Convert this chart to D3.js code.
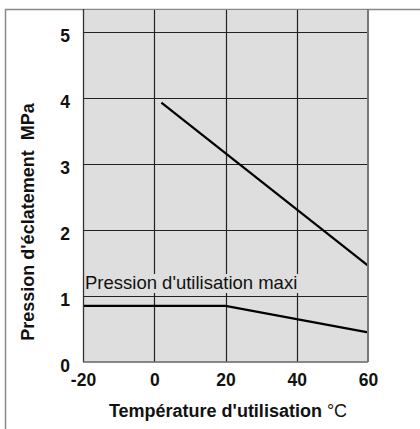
<!DOCTYPE html>
<html>
<head>
<meta charset="utf-8">
<script src="https://cdn.jsdelivr.net/npm/d3@7"></script>
<style>
  html, body { margin: 0; padding: 0; background: #fff; }
  svg { display: block; font-family: "Liberation Sans", Arial, sans-serif; }
</style>
</head>
<body>
<div id="chart"></div>
<script>
var xTicks = [-20, 0, 20, 40, 60];
var yTicks = [0, 1, 2, 3, 4, 5];
var xGrid = [0, 20, 40];
var yGrid = [1, 2, 3, 4, 5];
var burstTemp = [2, 60];
var burstPressure = [3.93, 1.46];
var serviceTemp = [-20, 20, 60];
var servicePressure = [0.85, 0.85, 0.45];
var serviceLabel = "Pression d'utilisation maxi";

(function () {
  var width = 420;
  var height = 429;
  var margin = { top: 9, right: 52, bottom: 67, left: 83 };
  var innerWidth = width - margin.left - margin.right;
  var innerHeight = height - margin.top - margin.bottom;

  var svg = d3.select('#chart').append('svg')
    .attr('width', width)
    .attr('height', height);

  // outer frame
  svg.append('line').attr('x1', 5.5).attr('x2', 5.5).attr('y1', 9).attr('y2', height)
    .attr('stroke', '#888').attr('stroke-width', 1.5);
  svg.append('line').attr('x1', 5).attr('x2', width).attr('y1', 9.5).attr('y2', 9.5)
    .attr('stroke', '#888').attr('stroke-width', 1.5);

  var x = d3.scaleLinear().domain([-20, 60]).range([0, innerWidth]);
  var y = d3.scaleLinear().domain([0, 5.35]).range([innerHeight, 0]);

  var plot = svg.append('g')
    .attr('transform', 'translate(' + margin.left + ',' + margin.top + ')');

  plot.append('rect')
    .attr('y', 1)
    .attr('width', innerWidth).attr('height', innerHeight - 1)
    .attr('fill', '#dedede');

  plot.append('g').selectAll('line').data(yGrid).enter().append('line')
    .attr('x1', 0).attr('x2', innerWidth)
    .attr('y1', function (d) { return Math.round(y(d)) + 0.5; })
    .attr('y2', function (d) { return Math.round(y(d)) + 0.5; })
    .attr('stroke', '#222').attr('stroke-width', 1.2);

  plot.append('g').selectAll('line').data(xGrid).enter().append('line')
    .attr('y1', 1).attr('y2', innerHeight)
    .attr('x1', function (d) { return Math.round(x(d)) + 0.5; })
    .attr('x2', function (d) { return Math.round(x(d)) + 0.5; })
    .attr('stroke', '#222').attr('stroke-width', 1.2);

  // label with knockout background
  var label = plot.append('text')
    .attr('x', 2).attr('y', y(1) - 7)
    .attr('font-size', 18.5)
    .attr('fill', '#111')
    .text(serviceLabel);
  var bb = label.node().getBBox();
  plot.insert('rect', 'text')
    .attr('x', 1).attr('y', bb.y + 2)
    .attr('width', bb.width + 3).attr('height', bb.height - 2)
    .attr('fill', '#dedede');

  var line = d3.line()
    .x(function (d) { return x(d[0]); })
    .y(function (d) { return y(d[1]); });

  plot.append('path')
    .datum(d3.zip(burstTemp, burstPressure))
    .attr('d', line)
    .attr('fill', 'none').attr('stroke', '#000').attr('stroke-width', 2.2);

  plot.append('path')
    .datum(d3.zip(serviceTemp, servicePressure))
    .attr('d', line)
    .attr('fill', 'none').attr('stroke', '#000').attr('stroke-width', 2.2);

  // plot border
  plot.append('line').attr('x1', 0.5).attr('x2', 0.5).attr('y1', 0).attr('y2', innerHeight)
    .attr('stroke', '#333').attr('stroke-width', 1.3);
  plot.append('line').attr('x1', 0).attr('x2', innerWidth).attr('y1', innerHeight).attr('y2', innerHeight)
    .attr('stroke', '#666').attr('stroke-width', 1.6);
  plot.append('line').attr('x1', innerWidth).attr('x2', innerWidth).attr('y1', 0).attr('y2', innerHeight)
    .attr('stroke', '#777').attr('stroke-width', 2);

  var fmt = function (d) { return String(d); };

  // axes
  var xAxis = plot.append('g')
    .attr('transform', 'translate(0,' + innerHeight + ')')
    .call(d3.axisBottom(x).tickValues(xTicks).tickFormat(fmt).tickSize(0).tickPadding(12));
  xAxis.select('.domain').remove();
  xAxis.selectAll('text')
    .attr('font-size', 17.5).attr('font-weight', 'bold').attr('fill', '#111')
    .attr('font-family', '"Liberation Sans", Arial, sans-serif');

  var yAxis = plot.append('g')
    .call(d3.axisLeft(y).tickValues(yTicks).tickFormat(fmt).tickSize(0).tickPadding(13));
  yAxis.select('.domain').remove();
  yAxis.selectAll('text')
    .attr('font-size', 17.5).attr('font-weight', 'bold').attr('fill', '#111')
    .attr('dy', '0.55em')
    .attr('font-family', '"Liberation Sans", Arial, sans-serif');

  // axis titles
  var xTitle = svg.append('text')
    .attr('x', 228)
    .attr('y', 417)
    .attr('text-anchor', 'middle')
    .attr('font-size', 18)
    .attr('fill', '#111');
  xTitle.append('tspan').attr('font-weight', 'bold').text("Température d'utilisation");
  xTitle.append('tspan').text(' °C');

  svg.append('text')
    .attr('transform', 'translate(34,222) rotate(-90)')
    .attr('text-anchor', 'middle')
    .attr('font-size', 18)
    .attr('font-weight', 'bold')
    .attr('fill', '#111')
    .attr('xml:space', 'preserve')
    .style('white-space', 'pre')
    .text("Pression d'éclatement  MPa");
})();
</script>
</body>
</html>
